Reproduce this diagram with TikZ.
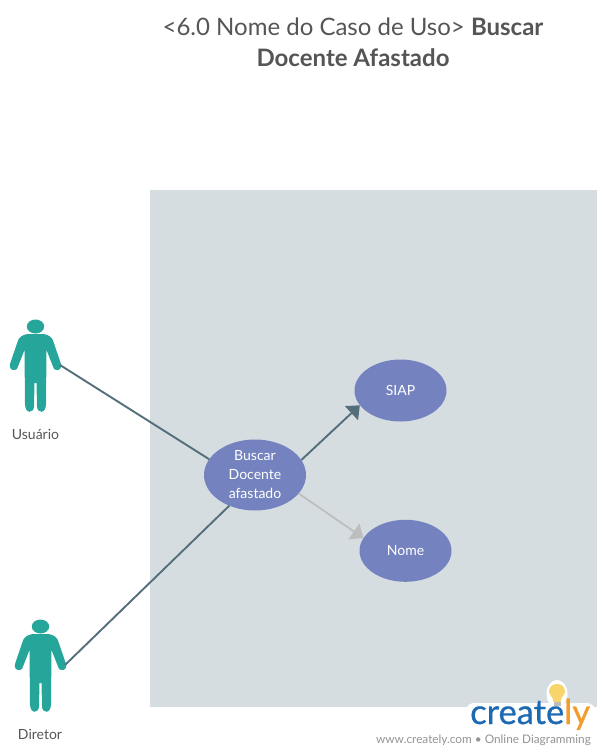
\documentclass[tikz,border=0pt]{standalone}
\usepackage{fontspec}
\setmainfont{Lato}
\newfontfamily\logofont[FakeBold=0.6]{Lato}
\usetikzlibrary{arrows.meta,shapes.geometric}
\newcommand{\lowered}[1]{\raisebox{-0.8pt}{#1}}
\definecolor{panelc}{HTML}{D5DDE1}
\definecolor{usec}{HTML}{7483BF}
\definecolor{tealc}{HTML}{26A69A}
\definecolor{linec}{HTML}{546E7A}
\definecolor{greyc}{HTML}{BDBDBD}
\definecolor{txtc}{HTML}{555555}
\definecolor{logob}{HTML}{1B6AB3}
\definecolor{logoo}{HTML}{F39C2C}
\definecolor{bulbc}{HTML}{F7D56B}
\tikzset{
  x=1pt,y=-1pt,
  usecase/.style={ellipse,fill=usec,text=white,inner sep=0pt,minimum width=#1,font=\fontsize{14}{19}\selectfont,align=center},
  usecase/.default={92pt},
  actorlabel/.style={text=txtc,font=\fontsize{14}{16}\selectfont,inner sep=0pt},
  conn/.style={draw=linec,line width=1.9pt},
  connarrow/.style={conn,-{Triangle[length=11.5pt,width=19pt]}},
  connlight/.style={draw=greyc,line width=1.7pt,-{Triangle[length=11.5pt,width=19pt]}},
  person/.pic={
    \fill[tealc] (0,-6.5) ellipse[x radius=8.7,y radius=7];
    \fill[tealc,line join=round]
      (-8,1) .. controls (-13,2) and (-17,4) .. (-18,9)
      -- (-25.5,31) .. controls (-26.5,35) and (-24,37.5) .. (-21,37)
      .. controls (-19,37) and (-18,36) .. (-17.5,33.5)
      -- (-11,17) -- (-10.5,71)
      .. controls (-10.5,81) and (-1.5,81) .. (-1.5,73)
      -- (-1,50) -- (1,50) -- (1.5,73)
      .. controls (1.5,81) and (10.5,81) .. (10.5,71)
      -- (11,17) -- (17.5,33.5)
      .. controls (18,36) and (19,37) .. (21,37)
      .. controls (24,37.5) and (26.5,35) .. (25.5,31)
      -- (18,9) .. controls (17,4) and (13,2) .. (8,1) -- cycle;
  }
}
\begin{document}
\begin{tikzpicture}
\useasboundingbox (0,0) rectangle (605,755);
\fill[panelc] (150,190) rectangle (597,707);
\node[text=txtc,align=center,inner sep=0pt,font=\fontsize{24}{31}\selectfont] (title) at (353,42.5) {<6.0 Nome do Caso de Uso> \textbf{Buscar}\\\textbf{Docente Afastado}};
\pic at (35.5,333) {person};
\pic at (40.5,633) {person};
\coordinate (userhand) at (60,365);
\coordinate (dirhand) at (65,665);
\node[actorlabel] (usuario) at (35.5,434) {Usuário};
\node[actorlabel] (diretor) at (40,734) {Diretor};
\node[usecase=102pt,minimum height=71pt] (busca) at (255,475) {\lowered{Buscar}\\\lowered{Docente}\\\lowered{afastado}};
\node[usecase=92pt,minimum height=62pt] (siap) at (400.5,390.5) {\lowered{SIAP}};
\node[usecase=92pt,minimum height=62pt] (nome) at (405.5,550.8) {\lowered{Nome}};
\draw[conn] (userhand) -- (busca.161.6);
\draw[conn] (dirhand) -- (busca.230);
\draw[connarrow] (busca.18.4) -- (siap.200);
\draw[connlight] (busca.-23.4) -- (nome.163);
% logo
\fill[white,rounded corners=8pt] (466,703) rectangle (595,745);
\fill[white] (466,707) rectangle (597,755);
\fill[white] (557,694) ellipse[x radius=10.5,y radius=14];
\fill[bulbc] (553.5,702) .. controls (553,696) and (549,695) .. (549,691.5)
  .. controls (549,681.5) and (565,681.5) .. (565,691.5)
  .. controls (565,695) and (561,696) .. (560.5,702) -- cycle;
\fill[greyc] (553.5,702) rectangle (560.5,706);
\node[anchor=base west,inner sep=0pt,font=\logofont\fontsize{34.5}{38}\selectfont] (logo) at (470,724) {\textcolor{logob}{create}\textcolor{logoo}{ly}};
\node[anchor=base east,inner sep=0pt,text=greyc!60!txtc,font=\fontsize{11.8}{14}\selectfont] (web) at (591,743) {www.creately.com • Online Diagramming};
\end{tikzpicture}
\end{document}
